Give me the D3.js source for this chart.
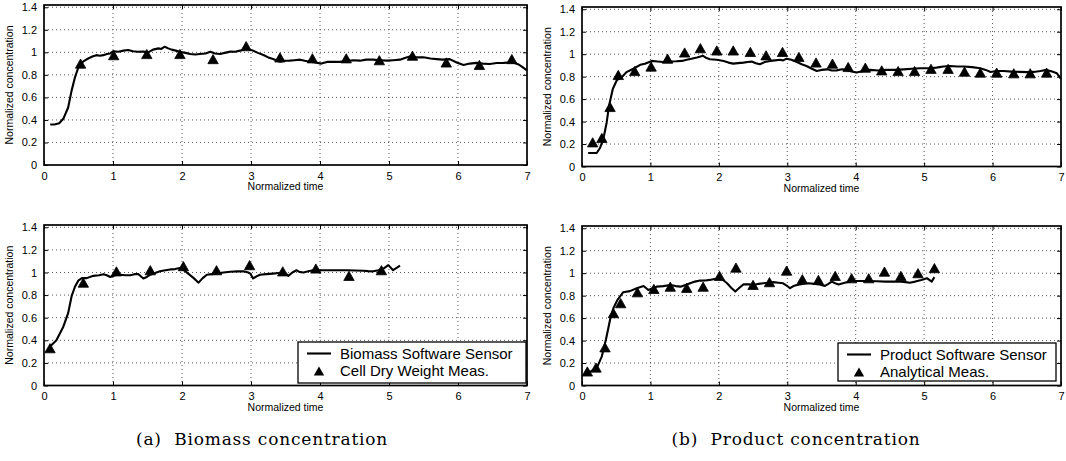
<!DOCTYPE html>
<html>
<head>
<meta charset="utf-8">
<script src="https://cdn.jsdelivr.net/npm/d3@7"></script>
<style>
  html, body { margin: 0; padding: 0; background: #fff; }
  svg { display: block; }
  text { fill: #000; }
</style>
</head>
<body>
<svg id="chart" width="1066" height="461"></svg>
<script>
// ---------------- DATA ----------------
const xTickValues = [0, 1, 2, 3, 4, 5, 6, 7];
const xTickLabels = ["0", "1", "2", "3", "4", "5", "6", "7"];
const yTickValues = [0, 0.2, 0.4, 0.6, 0.8, 1.0, 1.2, 1.4];
const yTickLabels = ["0", "0.2", "0.4", "0.6", "0.8", "1", "1.2", "1.4"];
const xAxisTitle = "Normalized time";
const yAxisTitle = "Normalized concentration";
const captions = ["(a)  Biomass concentration", "(b)  Product concentration"];
const legendBiomass = ["Biomass Software Sensor", "Cell Dry Weight Meas."];
const legendProduct = ["Product Software Sensor", "Analytical Meas."];

// Panel (a) top: biomass, batch 1
const bio1SensorT = [0.09,0.15,0.22,0.28,0.35,0.40,0.45,0.50,0.57,0.64,0.71,0.76,0.81,0.86,0.91,0.96,1.005,1.08,1.15,1.22,1.29,1.36,1.44,1.51,1.58,1.66,1.70,1.75,1.80,1.85,1.91,1.97,2.05,2.12,2.19,2.26,2.34,2.41,2.48,2.55,2.62,2.70,2.77,2.84,2.94,3.03,3.10,3.18,3.25,3.32,3.42,3.49,3.56,3.63,3.71,3.78,3.85,3.93,4.02,4.10,4.19,4.29,4.39,4.48,4.58,4.67,4.77,4.87,4.97,5.06,5.16,5.23,5.30,5.40,5.50,5.60,5.69,5.78,5.88,5.98,6.08,6.17,6.27,6.36,6.46,6.56,6.66,6.74,6.80,6.87,6.92,7.0];
const bio1SensorV = [0.36,0.36,0.37,0.41,0.51,0.66,0.78,0.87,0.92,0.945,0.965,0.975,0.97,0.975,0.985,0.99,1.01,1.005,1.015,1.02,1.01,1.005,1.006,1.0,1.024,1.035,1.03,1.05,1.035,1.024,1.015,1.006,0.995,0.985,0.98,0.985,0.99,1.006,0.99,0.985,0.995,1.006,1.005,1.015,1.035,1.015,0.995,0.976,0.955,0.94,0.917,0.925,0.926,0.93,0.935,0.925,0.917,0.91,0.90,0.915,0.917,0.915,0.923,0.93,0.926,0.935,0.935,0.93,0.926,0.93,0.935,0.95,0.962,0.955,0.956,0.945,0.94,0.935,0.94,0.91,0.888,0.90,0.906,0.90,0.897,0.905,0.906,0.91,0.91,0.895,0.876,0.84];
const bio1MeasT = [0.53,1.01,1.49,1.97,2.45,2.93,3.42,3.89,4.38,4.86,5.34,5.83,6.31,6.78];
const bio1MeasV = [0.90,0.975,0.985,0.985,0.94,1.055,0.955,0.947,0.947,0.93,0.97,0.91,0.888,0.94];

// Panel (b) top: product, batch 1
const prod1SensorT = [0.09,0.215,0.263,0.31,0.36,0.395,0.45,0.51,0.58,0.65,0.75,0.85,0.92,1.02,1.10,1.19,1.28,1.38,1.46,1.53,1.60,1.68,1.77,1.82,1.87,1.97,2.07,2.14,2.21,2.28,2.36,2.42,2.48,2.54,2.60,2.67,2.75,2.82,2.89,2.94,2.99,3.06,3.14,3.21,3.28,3.36,3.43,3.50,3.58,3.65,3.72,3.80,3.87,3.94,4.01,4.11,4.21,4.33,4.45,4.58,4.70,4.82,4.94,5.06,5.18,5.28,5.38,5.48,5.58,5.70,5.82,5.90,5.97,6.06,6.16,6.28,6.40,6.50,6.60,6.70,6.79,6.87,6.94,7.0];
const prod1SensorV = [0.12,0.12,0.165,0.24,0.39,0.54,0.69,0.77,0.795,0.84,0.87,0.905,0.915,0.94,0.935,0.93,0.935,0.937,0.94,0.95,0.96,0.97,0.985,0.965,0.955,0.95,0.94,0.925,0.916,0.92,0.925,0.93,0.934,0.92,0.91,0.93,0.94,0.945,0.95,0.945,0.96,0.95,0.93,0.91,0.895,0.87,0.85,0.86,0.865,0.855,0.856,0.865,0.86,0.845,0.836,0.85,0.86,0.855,0.86,0.86,0.865,0.87,0.875,0.875,0.88,0.89,0.895,0.89,0.89,0.885,0.875,0.86,0.842,0.85,0.85,0.845,0.842,0.84,0.842,0.85,0.86,0.845,0.83,0.78];
const prod1MeasT = [0.156,0.29,0.41,0.53,0.77,1.01,1.25,1.50,1.73,1.97,2.21,2.46,2.69,2.93,3.17,3.42,3.66,3.89,4.14,4.38,4.62,4.86,5.10,5.35,5.59,5.82,6.06,6.31,6.55,6.79];
const prod1MeasV = [0.215,0.254,0.53,0.815,0.85,0.89,0.96,1.015,1.053,1.033,1.033,1.02,0.99,1.02,0.976,0.926,0.916,0.886,0.88,0.856,0.85,0.85,0.87,0.87,0.845,0.836,0.836,0.83,0.83,0.836];

// Panel (a) bottom: biomass, batch 2
const bio2SensorT = [0.087,0.18,0.28,0.35,0.40,0.45,0.50,0.55,0.62,0.715,0.80,0.86,0.91,0.96,1.03,1.10,1.18,1.25,1.31,1.37,1.44,1.49,1.54,1.61,1.68,1.76,1.83,1.90,1.97,2.03,2.09,2.17,2.24,2.30,2.36,2.43,2.50,2.60,2.70,2.80,2.89,2.96,2.99,3.03,3.08,3.13,3.22,3.32,3.40,3.47,3.51,3.54,3.60,3.66,3.70,3.76,3.83,3.90,4.02,4.14,4.26,4.39,4.51,4.63,4.70,4.77,4.85,4.92,4.99,5.06,5.16];
const bio2SensorV = [0.345,0.40,0.52,0.64,0.79,0.876,0.93,0.95,0.95,0.97,0.975,0.985,0.975,0.96,0.975,0.98,0.975,0.976,0.985,0.985,0.947,0.96,0.98,0.995,1.01,1.02,1.027,1.03,1.04,1.02,0.99,0.95,0.91,0.95,0.98,0.985,0.99,1.0,1.006,1.01,1.01,1.0,0.99,0.947,0.965,0.98,0.985,0.99,0.995,1.0,0.99,0.97,1.0,1.02,1.005,1.0,1.01,1.02,1.02,1.02,1.02,1.02,1.018,1.015,1.012,1.01,1.02,1.035,1.065,1.02,1.06];
const bio2MeasT = [0.087,0.57,1.05,1.54,2.02,2.50,2.98,3.46,3.94,4.42,4.89];
const bio2MeasV = [0.33,0.91,1.01,1.02,1.056,1.02,1.065,1.01,1.035,0.97,1.02];

// Panel (b) bottom: product, batch 2
const prod2SensorT = [0.08,0.215,0.29,0.35,0.41,0.46,0.516,0.60,0.70,0.80,0.90,0.97,1.09,1.19,1.29,1.37,1.44,1.51,1.58,1.65,1.725,1.80,1.87,1.95,2.02,2.07,2.12,2.18,2.24,2.30,2.36,2.44,2.51,2.58,2.65,2.72,2.80,2.87,2.94,2.99,3.04,3.09,3.14,3.22,3.31,3.40,3.47,3.55,3.60,3.65,3.70,3.75,3.84,3.94,4.06,4.19,4.31,4.43,4.55,4.67,4.73,4.79,4.87,4.96,5.04,5.11,5.15];
const prod2SensorV = [0.11,0.155,0.26,0.41,0.585,0.69,0.76,0.83,0.84,0.866,0.886,0.85,0.88,0.885,0.895,0.885,0.88,0.895,0.91,0.925,0.934,0.935,0.94,0.95,0.955,0.935,0.91,0.87,0.836,0.87,0.90,0.90,0.895,0.905,0.91,0.915,0.92,0.915,0.91,0.89,0.866,0.885,0.895,0.905,0.91,0.905,0.90,0.887,0.905,0.925,0.91,0.90,0.915,0.93,0.93,0.93,0.928,0.925,0.925,0.925,0.92,0.915,0.925,0.94,0.955,0.925,0.965];
const prod2MeasT = [0.078,0.205,0.336,0.46,0.565,0.81,1.05,1.29,1.53,1.77,2.01,2.25,2.50,2.74,2.99,3.22,3.455,3.70,3.94,4.19,4.42,4.66,4.91,5.15];
const prod2MeasV = [0.125,0.16,0.34,0.644,0.733,0.83,0.86,0.88,0.87,0.88,0.976,1.05,0.896,0.92,1.023,0.946,0.94,0.976,0.955,0.955,1.014,0.976,1.0,1.045];

// ---------------- DRAWING ----------------
const SANS = "'Liberation Sans', Arial, Helvetica, sans-serif";
const SERIF = "'DejaVu Serif', 'Liberation Serif', serif";
const svg = d3.select("#chart");

function trianglePath(cx, cy) {
  const w = 5.2, h = 4.6;
  return `M${cx},${cy - h}L${cx + w},${cy + h}L${cx - w},${cy + h}Z`;
}

function drawPanel(p) {
  const x = d3.scaleLinear().domain([0, 7]).range([p.left, p.right]);
  const y = d3.scaleLinear().domain([0, 1.42]).range([p.bottom, p.top]);
  const g = svg.append("g");

  // grid
  g.append("g").selectAll("line").data(xTickValues.slice(1, -1)).join("line")
    .attr("x1", d => x(d)).attr("x2", d => x(d)).attr("y1", p.top).attr("y2", p.bottom)
    .attr("stroke", "#444").attr("stroke-width", 0.9).attr("stroke-dasharray", "1,3");
  g.append("g").selectAll("line").data(yTickValues.slice(1)).join("line")
    .attr("y1", d => y(d)).attr("y2", d => y(d)).attr("x1", p.left).attr("x2", p.right)
    .attr("stroke", "#444").attr("stroke-width", 0.9).attr("stroke-dasharray", "1,3");

  // axes via d3 axes (inward ticks)
  const xAxisB = d3.axisBottom(x).tickValues(xTickValues).tickFormat((d, i) => xTickLabels[i]).tickSizeInner(-4).tickSizeOuter(0).tickPadding(7);
  const xAxisT = d3.axisTop(x).tickValues(xTickValues).tickFormat("").tickSizeInner(-4).tickSizeOuter(0);
  const yAxisL = d3.axisLeft(y).tickValues(yTickValues).tickFormat((d, i) => yTickLabels[i]).tickSizeInner(-4).tickSizeOuter(0).tickPadding(7);
  const yAxisR = d3.axisRight(y).tickValues(yTickValues).tickFormat("").tickSizeInner(-4).tickSizeOuter(0);

  function style(sel) {
    sel.select(".domain").remove();
    sel.selectAll(".tick line").attr("stroke", "#000").attr("stroke-width", 1);
    sel.selectAll(".tick text").attr("font-size", 11).style("font-family", SANS).attr("fill", "#000");
  }
  g.append("g").attr("transform", `translate(0,${p.bottom})`).call(xAxisB).call(style);
  g.append("g").attr("transform", `translate(0,${p.top})`).call(xAxisT).call(style);
  g.append("g").attr("transform", `translate(${p.left},0)`).call(yAxisL).call(style);
  g.append("g").attr("transform", `translate(${p.right},0)`).call(yAxisR).call(style);

  // sensor line
  const pts = p.sensorT.map((t, i) => [t, p.sensorV[i]]);
  const line = d3.line().x(d => x(d[0])).y(d => y(d[1]));
  g.append("path").datum(pts).attr("d", line)
    .attr("fill", "none").attr("stroke", "#000").attr("stroke-width", 2.1)
    .attr("stroke-linejoin", "round").attr("stroke-linecap", "butt");

  // measurement triangles
  const meas = p.measT.map((t, i) => [t, p.measV[i]]);
  g.append("g").selectAll("path").data(meas).join("path")
    .attr("d", d => trianglePath(x(d[0]), y(d[1])))
    .attr("fill", "#000").attr("stroke", "#000").attr("stroke-width", 0.8);

  // frame
  g.append("rect").attr("x", p.left).attr("y", p.top)
    .attr("width", p.right - p.left).attr("height", p.bottom - p.top)
    .attr("fill", "none").attr("stroke", "#000").attr("stroke-width", 1.7);

  // axis titles
  g.append("text").attr("x", (p.left + p.right) / 2).attr("y", p.bottom + 25)
    .attr("text-anchor", "middle").attr("font-size", 10.5).style("font-family", SANS).text(xAxisTitle);
  g.append("text")
    .attr("transform", `translate(${p.left - 31},${(p.top + p.bottom) / 2}) rotate(-90)`)
    .attr("text-anchor", "middle").attr("font-size", 10.5).style("font-family", SANS).text(yAxisTitle);

  // legend
  if (p.legend) {
    const L = p.legend;
    const lg = g.append("g");
    lg.append("rect").attr("x", L.x0).attr("y", L.y0).attr("width", L.x1 - L.x0).attr("height", L.y1 - L.y0)
      .attr("fill", "#fff").attr("stroke", "#000").attr("stroke-width", 1.3);
    const r1 = L.y0 + 11.5, r2 = L.y0 + 29;
    lg.append("line").attr("x1", L.x0 + 9).attr("x2", L.x0 + 33).attr("y1", r1).attr("y2", r1)
      .attr("stroke", "#000").attr("stroke-width", 2.1);
    lg.append("path").attr("d", trianglePath(L.x0 + 21, r2)).attr("fill", "#000");
    lg.append("text").attr("x", L.x0 + 42).attr("y", r1 + 5).attr("font-size", 15).style("font-family", SANS).text(L.labels[0]);
    lg.append("text").attr("x", L.x0 + 42).attr("y", r2 + 5).attr("font-size", 15).style("font-family", SANS).text(L.labels[1]);
  }
}

drawPanel({left: 44, right: 527, top: 5, bottom: 165,
  sensorT: bio1SensorT, sensorV: bio1SensorV, measT: bio1MeasT, measV: bio1MeasV});
drawPanel({left: 582, right: 1061, top: 7, bottom: 166.5,
  sensorT: prod1SensorT, sensorV: prod1SensorV, measT: prod1MeasT, measV: prod1MeasV});
drawPanel({left: 44, right: 527, top: 225, bottom: 385.5,
  sensorT: bio2SensorT, sensorV: bio2SensorV, measT: bio2MeasT, measV: bio2MeasV,
  legend: {x0: 298, x1: 526, y0: 342, y1: 383, labels: legendBiomass}});
drawPanel({left: 582, right: 1061, top: 226, bottom: 385.5,
  sensorT: prod2SensorT, sensorV: prod2SensorV, measT: prod2MeasT, measV: prod2MeasV,
  legend: {x0: 838, x1: 1056, y0: 343, y1: 381, labels: legendProduct}});

// captions
const capX = [262, 796];
captions.forEach((c, i) => {
  svg.append("text").attr("x", capX[i]).attr("y", 445).attr("text-anchor", "middle")
    .style("font-family", SERIF).attr("font-size", 17).style("letter-spacing", "0.8px")
    .style("white-space", "pre").text(c);
});
</script>
</body>
</html>
